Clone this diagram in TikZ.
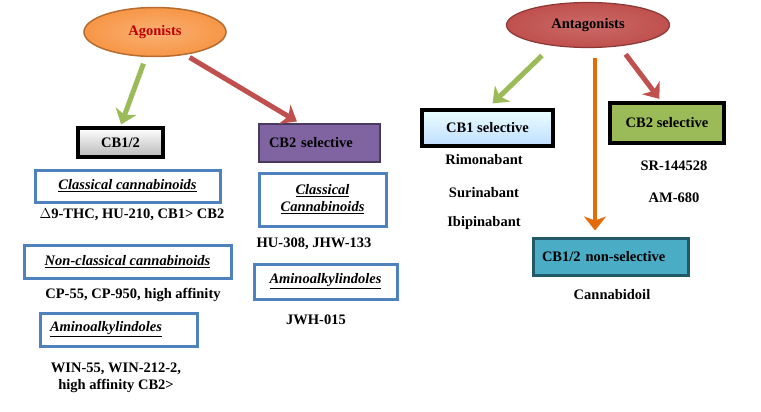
\documentclass[tikz,border=0pt]{standalone}
\usepackage{fontspec}
\setmainfont{Liberation Serif}
\usetikzlibrary{arrows.meta,shapes.geometric}

\definecolor{agfill}{HTML}{F79646}
\definecolor{agline}{HTML}{B66D31}
\definecolor{agtext}{HTML}{C00000}
\definecolor{antfill}{HTML}{C0504D}
\definecolor{antline}{HTML}{8C3836}
\definecolor{arrgreen}{HTML}{9BBB59}
\definecolor{arrred}{HTML}{C0504D}
\definecolor{arrorange}{HTML}{E36C09}
\definecolor{boxblue}{HTML}{4F81BD}
\definecolor{purplefill}{HTML}{8064A2}
\definecolor{purpleline}{HTML}{4B3A60}
\definecolor{tealfill}{HTML}{4BACC6}
\definecolor{tealline}{HTML}{215968}
\definecolor{greenfill}{HTML}{9BBB59}

\newcommand{\itul}[1]{\underline{\itshape #1}}

\begin{document}
\begin{tikzpicture}[x=1pt,y=-1pt,font=\fontsize{14.5}{17}\selectfont\bfseries,
	agell/.style={ellipse,draw=agline,line width=1.5pt,inner color=agfill!75!white,outer color=agfill,inner sep=0pt,minimum width=142pt,minimum height=49pt},
	antell/.style={ellipse,draw=antline,line width=1.2pt,inner color=antfill!85!white,outer color=antfill,inner sep=0pt,minimum width=163pt,minimum height=45pt},
	blackbox/.style={draw=black,line width=3.5pt},
	bluebox/.style={draw=boxblue,line width=3pt,fill=white},
	bigarrow/.style={line width=5pt,-{Stealth[length=14pt,width=22pt,inset=4pt]}}
	]
	\useasboundingbox (0,0) rectangle (761,412);

	% agonists side
	\node[agell,text=agtext] (agon) at (155,32) {Agonists};
	\node[blackbox,top color=white,bottom color=gray!55,minimum width=85pt,minimum height=29pt] (cbboth) at (120.5,142.5) {CB1/2};
	\node[draw=purpleline,line width=2pt,fill=purplefill,minimum width=121pt,minimum height=38pt,text width=101pt,inner xsep=10pt,align=left] (cbtwo) at (319.5,143) {CB2 selective};

	\node[bluebox,minimum width=185pt,minimum height=32pt] (classic) at (127.5,186) {\itul{Classical cannabinoids}};
	\node (thc) at (132,215) {$\Delta$9-THC, HU-210, CB1> CB2};
	\node[bluebox,minimum width=207pt,minimum height=33pt] (nonclassic) at (127.5,261.5) {\itul{Non-classical cannabinoids}};
	\node (cp) at (133,295) {CP-55, CP-950, high affinity};
	\node[bluebox,minimum width=157pt,minimum height=33pt,text width=137pt,inner xsep=10pt,align=left] (aminoone) at (118.5,329.5) {\itul{Aminoalkylindoles}};
	\node[align=center] (win) at (116,378) {WIN-55, WIN-212-2,\\high affinity CB2>};

	\node[bluebox,minimum width=127pt,minimum height=53pt,align=center] (classictwo) at (322.5,199.5) {\itul{Classical}\\\itul{Cannabinoids}};
	\node (hu) at (314,244) {HU-308, JHW-133};
	\node[bluebox,minimum width=143pt,minimum height=35pt] (aminotwo) at (325.5,281.5) {\itul{Aminoalkylindoles}};
	\node (jwh) at (316,320) {JWH-015};

	\draw[bigarrow,arrgreen,shorten <=7pt,shorten >=2pt] (agon.250) -- (cbboth.north);
	\draw[bigarrow,arrred,shorten <=5pt,shorten >=3pt] (agon.323) -- (cbtwo.135);

	% antagonists side
	\node[antell] (antag) at (588,25) {Antagonists};
	\node[blackbox,top color=cyan!8!white,bottom color=cyan!45!blue!25!white,minimum width=131pt,minimum height=36pt] (cbone) at (487.5,128) {CB1 selective};
	\node[blackbox,fill=greenfill,minimum width=114pt,minimum height=40pt] (cbtwor) at (667,123) {CB2 selective};
	\node (rimo) at (484,160) {Rimonabant};
	\node (suri) at (484,193) {Surinabant};
	\node (ibi) at (484,223) {Ibipinabant};
	\node (sr) at (674,166) {SR-144528};
	\node (am) at (674,198) {AM-680};
	\node[draw=tealline,line width=3pt,fill=tealfill,minimum width=155pt,minimum height=37pt,text width=137pt,inner xsep=9pt,align=left] (nonsel) at (610.5,256.5) {CB1/2 non-selective};
	\node (canna) at (612,295) {Cannabidoil};

	\draw[bigarrow,arrgreen,shorten <=14pt,shorten >=7pt] (antag.210) -- (cbone.north);
	\draw[bigarrow,arrred,shorten <=10pt,shorten >=3pt] (antag.326) -- (cbtwor.105);
	\draw[bigarrow,line width=4pt,arrorange,shorten <=10pt,shorten >=6pt] (antag.-73) -- (antag.-73 |- nonsel.north);
\end{tikzpicture}
\end{document}
